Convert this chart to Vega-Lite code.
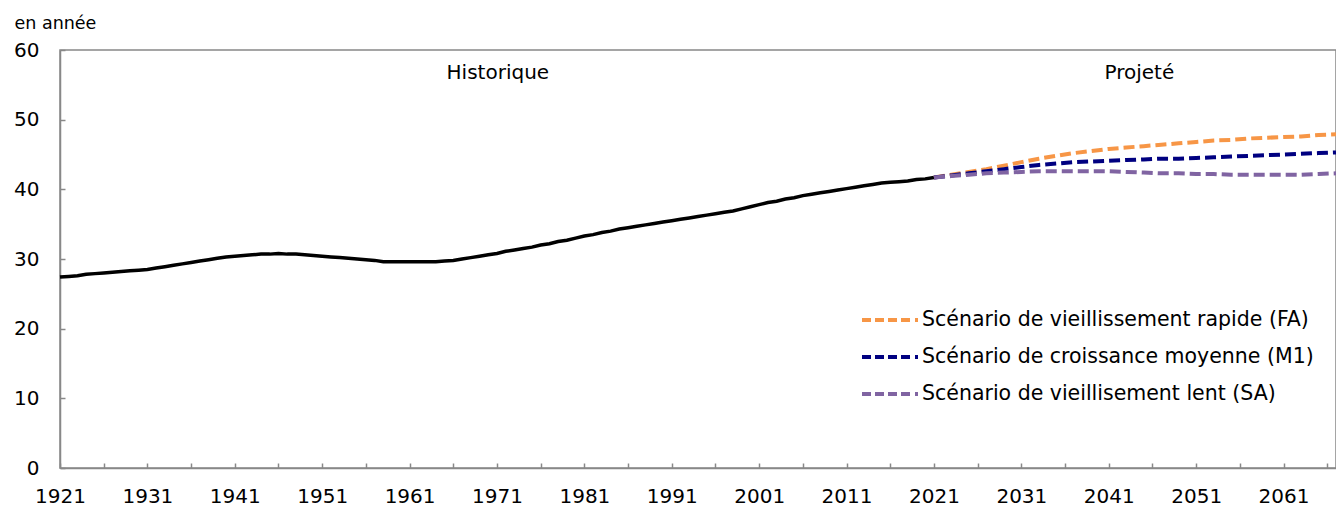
{
  "$schema": "https://vega.github.io/schema/vega-lite/v6.json",
  "autosize": "none",
  "width": 1276,
  "height": 418,
  "padding": {"left": 60, "top": 50, "right": 0, "bottom": 38},
  "background": "white",
  "config": {
    "font": "DejaVu Sans",
    "view": {"stroke": "#888888", "strokeWidth": 1.5},
    "axis": {"labelFont": "DejaVu Sans", "labelFontSize": 20, "labelColor": "#000000", "domainColor": "#888888", "domainWidth": 1.5, "tickColor": "#888888", "tickWidth": 1.5, "grid": false}
  },
  "datasets": {
    "hist": [
      {"year":1921,"v":27.4},{"year":1922,"v":27.5},{"year":1923,"v":27.6},{"year":1924,"v":27.8},{"year":1925,"v":27.9},
      {"year":1926,"v":28.0},{"year":1927,"v":28.1},{"year":1928,"v":28.2},{"year":1929,"v":28.3},{"year":1930,"v":28.4},
      {"year":1931,"v":28.5},{"year":1932,"v":28.7},{"year":1933,"v":28.9},{"year":1934,"v":29.1},{"year":1935,"v":29.3},
      {"year":1936,"v":29.5},{"year":1937,"v":29.7},{"year":1938,"v":29.9},{"year":1939,"v":30.1},{"year":1940,"v":30.3},
      {"year":1941,"v":30.4},{"year":1942,"v":30.5},{"year":1943,"v":30.6},{"year":1944,"v":30.7},{"year":1945,"v":30.7},
      {"year":1946,"v":30.8},{"year":1947,"v":30.7},{"year":1948,"v":30.7},{"year":1949,"v":30.6},{"year":1950,"v":30.5},
      {"year":1951,"v":30.4},{"year":1952,"v":30.3},{"year":1953,"v":30.2},{"year":1954,"v":30.1},{"year":1955,"v":30.0},
      {"year":1956,"v":29.9},{"year":1957,"v":29.8},{"year":1958,"v":29.6},{"year":1959,"v":29.6},{"year":1960,"v":29.6},
      {"year":1961,"v":29.6},{"year":1962,"v":29.6},{"year":1963,"v":29.6},{"year":1964,"v":29.6},{"year":1965,"v":29.7},
      {"year":1966,"v":29.8},{"year":1967,"v":30.0},{"year":1968,"v":30.2},{"year":1969,"v":30.4},{"year":1970,"v":30.6},
      {"year":1971,"v":30.8},{"year":1972,"v":31.1},{"year":1973,"v":31.3},{"year":1974,"v":31.5},{"year":1975,"v":31.7},
      {"year":1976,"v":32.0},{"year":1977,"v":32.2},{"year":1978,"v":32.5},{"year":1979,"v":32.7},{"year":1980,"v":33.0},
      {"year":1981,"v":33.3},{"year":1982,"v":33.5},{"year":1983,"v":33.8},{"year":1984,"v":34.0},{"year":1985,"v":34.3},
      {"year":1986,"v":34.5},{"year":1987,"v":34.7},{"year":1988,"v":34.9},{"year":1989,"v":35.1},{"year":1990,"v":35.3},
      {"year":1991,"v":35.5},{"year":1992,"v":35.7},{"year":1993,"v":35.9},{"year":1994,"v":36.1},{"year":1995,"v":36.3},
      {"year":1996,"v":36.5},{"year":1997,"v":36.7},{"year":1998,"v":36.9},{"year":1999,"v":37.2},{"year":2000,"v":37.5},
      {"year":2001,"v":37.8},{"year":2002,"v":38.1},{"year":2003,"v":38.3},{"year":2004,"v":38.6},{"year":2005,"v":38.8},
      {"year":2006,"v":39.1},{"year":2007,"v":39.3},{"year":2008,"v":39.5},{"year":2009,"v":39.7},{"year":2010,"v":39.9},
      {"year":2011,"v":40.1},{"year":2012,"v":40.3},{"year":2013,"v":40.5},{"year":2014,"v":40.7},{"year":2015,"v":40.9},
      {"year":2016,"v":41.0},{"year":2017,"v":41.1},{"year":2018,"v":41.2},{"year":2019,"v":41.4},{"year":2020,"v":41.5},
      {"year":2021,"v":41.7}
    ],
    "proj": [
      {"year":2021,"s":"Scénario de vieillissement rapide (FA)","v":41.7},
      {"year":2023,"s":"Scénario de vieillissement rapide (FA)","v":42.1},
      {"year":2025,"s":"Scénario de vieillissement rapide (FA)","v":42.5},
      {"year":2027,"s":"Scénario de vieillissement rapide (FA)","v":42.9},
      {"year":2029,"s":"Scénario de vieillissement rapide (FA)","v":43.4},
      {"year":2031,"s":"Scénario de vieillissement rapide (FA)","v":43.9},
      {"year":2033,"s":"Scénario de vieillissement rapide (FA)","v":44.4},
      {"year":2035,"s":"Scénario de vieillissement rapide (FA)","v":44.8},
      {"year":2037,"s":"Scénario de vieillissement rapide (FA)","v":45.2},
      {"year":2039,"s":"Scénario de vieillissement rapide (FA)","v":45.5},
      {"year":2041,"s":"Scénario de vieillissement rapide (FA)","v":45.8},
      {"year":2043,"s":"Scénario de vieillissement rapide (FA)","v":46.0},
      {"year":2045,"s":"Scénario de vieillissement rapide (FA)","v":46.2},
      {"year":2047,"s":"Scénario de vieillissement rapide (FA)","v":46.4},
      {"year":2049,"s":"Scénario de vieillissement rapide (FA)","v":46.6},
      {"year":2051,"s":"Scénario de vieillissement rapide (FA)","v":46.8},
      {"year":2053,"s":"Scénario de vieillissement rapide (FA)","v":47.0},
      {"year":2055,"s":"Scénario de vieillissement rapide (FA)","v":47.1},
      {"year":2057,"s":"Scénario de vieillissement rapide (FA)","v":47.3},
      {"year":2059,"s":"Scénario de vieillissement rapide (FA)","v":47.4},
      {"year":2061,"s":"Scénario de vieillissement rapide (FA)","v":47.5},
      {"year":2063,"s":"Scénario de vieillissement rapide (FA)","v":47.6},
      {"year":2065,"s":"Scénario de vieillissement rapide (FA)","v":47.8},
      {"year":2067,"s":"Scénario de vieillissement rapide (FA)","v":47.9},
      {"year":2021,"s":"Scénario de croissance moyenne (M1)","v":41.7},
      {"year":2023,"s":"Scénario de croissance moyenne (M1)","v":42.0},
      {"year":2025,"s":"Scénario de croissance moyenne (M1)","v":42.3},
      {"year":2027,"s":"Scénario de croissance moyenne (M1)","v":42.6},
      {"year":2029,"s":"Scénario de croissance moyenne (M1)","v":42.9},
      {"year":2031,"s":"Scénario de croissance moyenne (M1)","v":43.2},
      {"year":2033,"s":"Scénario de croissance moyenne (M1)","v":43.5},
      {"year":2035,"s":"Scénario de croissance moyenne (M1)","v":43.7},
      {"year":2037,"s":"Scénario de croissance moyenne (M1)","v":43.9},
      {"year":2039,"s":"Scénario de croissance moyenne (M1)","v":44.0},
      {"year":2041,"s":"Scénario de croissance moyenne (M1)","v":44.1},
      {"year":2043,"s":"Scénario de croissance moyenne (M1)","v":44.2},
      {"year":2045,"s":"Scénario de croissance moyenne (M1)","v":44.3},
      {"year":2047,"s":"Scénario de croissance moyenne (M1)","v":44.4},
      {"year":2049,"s":"Scénario de croissance moyenne (M1)","v":44.4},
      {"year":2051,"s":"Scénario de croissance moyenne (M1)","v":44.5},
      {"year":2053,"s":"Scénario de croissance moyenne (M1)","v":44.6},
      {"year":2055,"s":"Scénario de croissance moyenne (M1)","v":44.7},
      {"year":2057,"s":"Scénario de croissance moyenne (M1)","v":44.8},
      {"year":2059,"s":"Scénario de croissance moyenne (M1)","v":44.9},
      {"year":2061,"s":"Scénario de croissance moyenne (M1)","v":45.0},
      {"year":2063,"s":"Scénario de croissance moyenne (M1)","v":45.1},
      {"year":2065,"s":"Scénario de croissance moyenne (M1)","v":45.2},
      {"year":2067,"s":"Scénario de croissance moyenne (M1)","v":45.3},
      {"year":2021,"s":"Scénario de vieillisement lent (SA)","v":41.7},
      {"year":2023,"s":"Scénario de vieillisement lent (SA)","v":41.9},
      {"year":2025,"s":"Scénario de vieillisement lent (SA)","v":42.1},
      {"year":2027,"s":"Scénario de vieillisement lent (SA)","v":42.3},
      {"year":2029,"s":"Scénario de vieillisement lent (SA)","v":42.4},
      {"year":2031,"s":"Scénario de vieillisement lent (SA)","v":42.5},
      {"year":2033,"s":"Scénario de vieillisement lent (SA)","v":42.6},
      {"year":2035,"s":"Scénario de vieillisement lent (SA)","v":42.6},
      {"year":2037,"s":"Scénario de vieillisement lent (SA)","v":42.6},
      {"year":2039,"s":"Scénario de vieillisement lent (SA)","v":42.6},
      {"year":2041,"s":"Scénario de vieillisement lent (SA)","v":42.6},
      {"year":2043,"s":"Scénario de vieillisement lent (SA)","v":42.5},
      {"year":2045,"s":"Scénario de vieillisement lent (SA)","v":42.4},
      {"year":2047,"s":"Scénario de vieillisement lent (SA)","v":42.3},
      {"year":2049,"s":"Scénario de vieillisement lent (SA)","v":42.3},
      {"year":2051,"s":"Scénario de vieillisement lent (SA)","v":42.2},
      {"year":2053,"s":"Scénario de vieillisement lent (SA)","v":42.2},
      {"year":2055,"s":"Scénario de vieillisement lent (SA)","v":42.1},
      {"year":2057,"s":"Scénario de vieillisement lent (SA)","v":42.1},
      {"year":2059,"s":"Scénario de vieillisement lent (SA)","v":42.1},
      {"year":2061,"s":"Scénario de vieillisement lent (SA)","v":42.1},
      {"year":2063,"s":"Scénario de vieillisement lent (SA)","v":42.1},
      {"year":2065,"s":"Scénario de vieillisement lent (SA)","v":42.2},
      {"year":2067,"s":"Scénario de vieillisement lent (SA)","v":42.3}
    ],
    "labels": [
      {"year":1971.1,"v":56.7,"t":"Historique"},
      {"year":2044.5,"v":56.7,"t":"Projeté"}
    ]
  },
  "encoding": {
    "x": {
      "field": "year", "type": "quantitative",
      "scale": {"domain": [1921, 2067], "nice": false, "zero": false},
      "axis": {"title": null, "values": [1921,1926,1931,1936,1941,1946,1951,1956,1961,1966,1971,1976,1981,1986,1991,1996,2001,2006,2011,2016,2021,2026,2031,2036,2041,2046,2051,2056,2061,2066],
               "labelExpr": "(datum.value - 1921) % 10 == 0 ? format(datum.value, 'd') : ''",
               "tickSize": -5, "labelPadding": 23, "labelFlush": false, "labelOverlap": false}
    },
    "y": {
      "field": "v", "type": "quantitative",
      "scale": {"domain": [0, 60], "nice": false},
      "axis": {"title": "en année", "titleAngle": 0, "titleX": -46, "titleY": -22, "titleAlign": "left", "titleBaseline": "alphabetic",
               "titleFont": "DejaVu Sans", "titleFontSize": 17.5, "titleFontWeight": "normal", "titleColor": "#000000",
               "values": [0,10,20,30,40,50,60], "tickSize": -5, "labelPadding": 26, "labelFlush": false}
    }
  },
  "layer": [
    {
      "data": {"name": "hist"},
      "mark": {"type": "line", "color": "#000000", "strokeWidth": 3.5}
    },
    {
      "data": {"name": "proj"},
      "mark": {"type": "line", "strokeWidth": 4, "strokeDash": [11, 5]},
      "encoding": {
        "color": {
          "field": "s", "type": "nominal",
          "scale": {"domain": ["Scénario de vieillissement rapide (FA)", "Scénario de croissance moyenne (M1)", "Scénario de vieillisement lent (SA)"],
                    "range": ["#F79646", "#000080", "#8064A2"]},
          "legend": {"title": null, "orient": "none", "legendX": 800, "legendY": 258,
                     "symbolType": "M -1 0 L 5 0", "symbolSize": 400, "symbolStrokeWidth": 4, "symbolDash": [9, 4, 9, 4, 9, 4, 9, 5, 3, 30],
                     "symbolFillColor": "transparent",
                     "labelFont": "DejaVu Sans", "labelFontSize": 20.5, "labelColor": "#000000", "labelLimit": 600,
                     "rowPadding": 14, "symbolOffset": 0, "labelOffset": 38}
        }
      }
    },
    {
      "data": {"name": "labels"},
      "mark": {"type": "text", "fontSize": 20, "font": "DejaVu Sans", "color": "#000000", "align": "center", "baseline": "middle"},
      "encoding": {"text": {"field": "t"}}
    }
  ]
}
